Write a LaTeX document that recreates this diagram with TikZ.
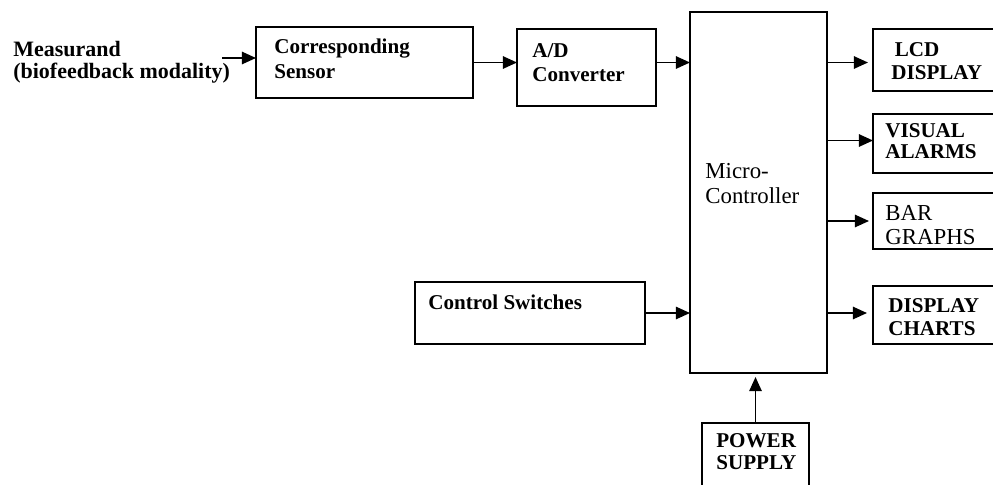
\documentclass[tikz,border=0pt]{standalone}
\usepackage{fontspec}
\setmainfont{Liberation Serif}
\usetikzlibrary{arrows.meta}
\usetikzlibrary{calc}
\tikzset{
blk/.style = {draw, line width=1pt, inner sep=0pt, outer sep=0pt},
lbl/.style = {inner sep=0pt, align=left,
              font=\bfseries\fontsize{12}{14}\selectfont},
big/.style = {font=\fontsize{13}{14.5}\selectfont},
arr/.style = {line width=1pt, -{Triangle[length=8pt, width=7pt]}}
}
% box: name, x, y (top left, px), width, height
\newcommand{\blok}[5]{\node[blk, anchor=north west, minimum width=#4*0.02cm, minimum height=#5*0.02cm] (#1) at (#2,#3) {};}
% text inside a box: name, offset, text
\newcommand{\blktext}[4][]{\node[lbl, #1, anchor=north west] (#2t) at ([shift={(#3)}]#2.north west) {#4};}

\begin{document}
\begin{tikzpicture}[x=0.02cm, y=-0.02cm]
    \useasboundingbox (0,0) rectangle (993,484);

    \blok{sen}{256}{27}{217}{71};
    \blok{ad}{517}{29}{139}{77};
    \blok{mc}{690}{12}{137}{361};
    \blok{lcd}{873}{29}{135}{62};
    \blok{vis}{873}{114}{135}{59};
    \blok{bar}{873}{193}{135}{56};
    \blok{chr}{873}{286}{135}{58};
    \blok{cs}{415}{282}{230}{62};
    \blok{pw}{702}{423}{107}{80};

    \blktext{sen}{18,12}{Corresponding\\Sensor};
    \blktext{ad}{15,14}{A/D\\Converter};
    \blktext[big]{mc}{15,151}{Micro-\\Controller};
    \blktext[font=\bfseries\fontsize{12}{13}\selectfont]{lcd}{18,13}{\,LCD\\DISPLAY};
    \blktext[font=\bfseries\fontsize{12}{12}\selectfont]{vis}{12,9}{VISUAL\\ALARMS};
    \blktext[font=\fontsize{13}{13.5}\selectfont]{bar}{12,12}{BAR\\GRAPHS};
    \blktext[font=\bfseries\fontsize{12}{13}\selectfont]{chr}{15,12}{DISPLAY\\CHARTS};
    \blktext{cs}{13,13}{Control Switches};
    \blktext[font=\bfseries\fontsize{12}{12.5}\selectfont]{pw}{14,10}{POWER\\SUPPLY};

    \node[lbl, anchor=north west, font=\bfseries\fontsize{12.5}{12.5}\selectfont] (msr) at (13,41) {Measurand\\(biofeedback modality)};
    \coordinate (min) at (222,58);

    \draw[arr] (min) -- (min -| sen.west);
    \draw[arr] (sen.east) -- (sen.east -| ad.west);
    \draw[arr] (ad.east |- sen.east) -- (mc.west |- sen.east);
    \draw[arr, shorten >=0.1cm] (mc.east |- sen.east) -- (lcd.west |- sen.east);
    \draw[arr] ([yshift=0.06cm]mc.east |- vis.west) -- ([yshift=0.06cm]vis.west);
    \draw[arr, shorten >=0.08cm] (mc.east |- bar.west) -- (bar.west);
    \draw[arr, shorten >=0.12cm] (mc.east |- cs.east) -- (chr.west |- cs.east);
    \draw[arr] (cs.east) -- (cs.east -| mc.west);
    \draw[arr, shorten >=0.08cm] (pw.north) -- (pw.north |- mc.south);
\end{tikzpicture}
\end{document}
